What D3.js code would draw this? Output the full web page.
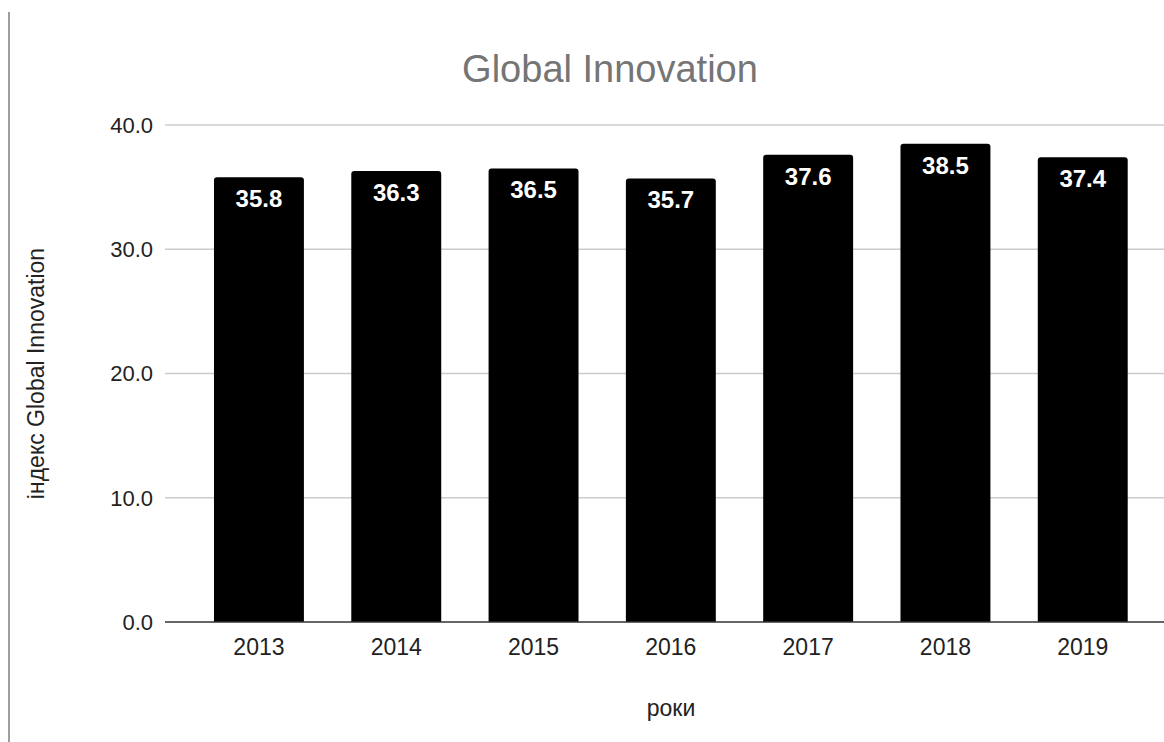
<!DOCTYPE html>
<html>
<head>
<meta charset="utf-8">
<script src="https://cdn.jsdelivr.net/npm/d3@7"></script>
<style>
  html, body { margin: 0; padding: 0; background: #fff; }
  svg { display: block; font-family: "Liberation Sans", Arial, sans-serif; }
</style>
</head>
<body>
<svg id="chart" width="1164" height="742"></svg>
<script>
// Global Innovation index by year
const years = ["2013", "2014", "2015", "2016", "2017", "2018", "2019"];
const indexValues = [35.8, 36.3, 36.5, 35.7, 37.6, 38.5, 37.4];
const yTicks = [0, 10, 20, 30, 40];

const chartTitle = "Global Innovation";
const xTitle = "роки";
const yTitle = "індекс Global Innovation";

const svg = d3.select("#chart");
const W = 1164, H = 742;

// plot frame
const gridLeft = 165, gridRight = 1164;
const yTop = 125, yBottom = 622;

const x = d3.scaleBand()
  .domain(years)
  .range([190.3, 1151.4])
  .paddingInner(0.345)
  .paddingOuter(0.1725);

const y = d3.scaleLinear()
  .domain([0, 40])
  .range([yBottom, yTop]);

// left page border
svg.append("line")
  .attr("x1", 9).attr("x2", 9)
  .attr("y1", 12).attr("y2", H)
  .attr("stroke", "#9e9e9e").attr("stroke-width", 2);

// title
svg.append("text")
  .attr("x", 610).attr("y", 82)
  .attr("text-anchor", "middle")
  .attr("font-size", 38)
  .attr("fill", "#757575")
  .text(chartTitle);

// horizontal gridlines
svg.append("g")
  .selectAll("line")
  .data(yTicks.filter(d => d !== 0))
  .join("line")
  .attr("x1", gridLeft).attr("x2", gridRight)
  .attr("y1", d => y(d)).attr("y2", d => y(d))
  .attr("stroke", "#cccccc").attr("stroke-width", 1.5);

// y tick labels
svg.append("g")
  .selectAll("text")
  .data(yTicks)
  .join("text")
  .attr("x", 153)
  .attr("y", d => y(d))
  .attr("dy", "0.36em")
  .attr("text-anchor", "end")
  .attr("font-size", 22)
  .attr("fill", "#222")
  .text(d => d3.format(".1f")(d));

// bars with slightly rounded tops
const r = 3;
function barPath(x0, w, yt, yb) {
  return `M${x0},${yb}V${yt + r}Q${x0},${yt} ${x0 + r},${yt}` +
         `H${x0 + w - r}Q${x0 + w},${yt} ${x0 + w},${yt + r}V${yb}Z`;
}

const data = years.map((yr, i) => ({ year: yr, value: indexValues[i] }));

svg.append("g")
  .selectAll("path")
  .data(data)
  .join("path")
  .attr("d", d => barPath(x(d.year), x.bandwidth(), y(d.value), y(0)))
  .attr("fill", "#000");

// value labels inside bars
svg.append("g")
  .selectAll("text")
  .data(data)
  .join("text")
  .attr("x", d => x(d.year) + x.bandwidth() / 2)
  .attr("y", d => y(d.value) + 30)
  .attr("text-anchor", "middle")
  .attr("font-size", 24)
  .attr("font-weight", "bold")
  .attr("fill", "#fff")
  .text(d => d3.format(".1f")(d.value));

// baseline
svg.append("line")
  .attr("x1", gridLeft).attr("x2", gridRight)
  .attr("y1", y(0)).attr("y2", y(0))
  .attr("stroke", "#333").attr("stroke-width", 1.5);

// x tick labels
svg.append("g")
  .selectAll("text")
  .data(years)
  .join("text")
  .attr("x", d => x(d) + x.bandwidth() / 2)
  .attr("y", 655)
  .attr("text-anchor", "middle")
  .attr("font-size", 23)
  .attr("fill", "#222")
  .text(d => d);

// axis titles
svg.append("text")
  .attr("x", 671).attr("y", 716)
  .attr("text-anchor", "middle")
  .attr("font-size", 23)
  .attr("fill", "#222")
  .text(xTitle);

svg.append("text")
  .attr("transform", `translate(44, ${(yTop + yBottom) / 2}) rotate(-90)`)
  .attr("text-anchor", "middle")
  .attr("font-size", 23)
  .attr("fill", "#222")
  .text(yTitle);
</script>
</body>
</html>
